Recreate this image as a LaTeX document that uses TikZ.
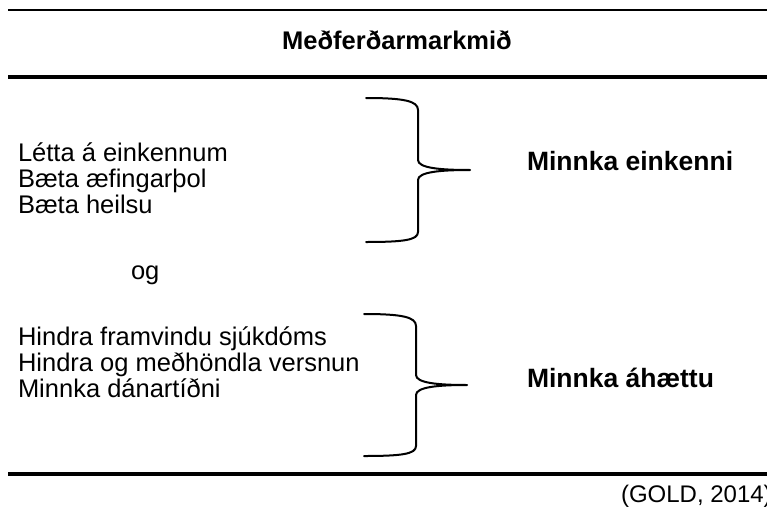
\documentclass[tikz,border=0pt]{standalone}
\usepackage{fontspec}
\setmainfont{Liberation Sans}
\begin{document}
\begin{tikzpicture}[x=1pt,y=-1pt,
  every node/.style={inner sep=0pt,outer sep=0pt},
  lefttext/.style={anchor=west,font=\fontsize{25.5}{28}\selectfont,text height=0.72em,text depth=0.2em},
  boldtext/.style={anchor=west,font=\fontsize{26.5}{30}\selectfont\bfseries,text height=0.72em,text depth=0.2em},
  rulethin/.style={line width=2.2pt},
  rulethick/.style={line width=3.6pt},
  bracestyle/.style={line width=2pt,line cap=round,line join=round}
]
\useasboundingbox (0,0) rectangle (767,511);
% rules
\draw[rulethin] (8,10) -- (767,10);
\draw[rulethick] (8,77) -- (767,77);
\draw[rulethick] (8,474) -- (767,474);
% title
\node[font=\fontsize{25.5}{28}\selectfont\bfseries,text height=0.72em,text depth=0.2em] (title) at (397,47) {Meðferðarmarkmið};
% upper group
\node[lefttext] (a1) at (18,159) {Létta á einkennum};
\node[lefttext] (a2) at (18,185) {Bæta æfingarþol};
\node[lefttext] (a3) at (18,211) {Bæta heilsu};
\node[boldtext] (ra) at (527,168) {Minnka einkenni};
\draw[bracestyle] (366,98) .. controls (404,98) and (418,101) .. (418,110)
  -- (418,160) .. controls (418,168) and (440,170) .. (470,170)
  .. controls (440,170) and (418,172) .. (418,180)
  -- (418,232) .. controls (418,240) and (404,242) .. (366,242);
% og
\node[lefttext] (og) at (131,277) {og};
% lower group
\node[lefttext] (b1) at (18,343) {Hindra framvindu sjúkdóms};
\node[lefttext] (b2) at (18,369) {Hindra og meðhöndla versnun};
\node[lefttext] (b3) at (18,395) {Minnka dánartíðni};
\node[boldtext] (rb) at (527,385) {Minnka áhættu};
\draw[bracestyle] (364,314) .. controls (402,314) and (416,317) .. (416,326)
  -- (416,375) .. controls (416,383) and (438,385) .. (467,385)
  .. controls (438,385) and (416,387) .. (416,395)
  -- (416,446) .. controls (416,454) and (402,456) .. (364,456);
% source
\node[anchor=west,font=\fontsize{24}{27}\selectfont,text height=0.72em,text depth=0.2em] (src) at (621,500) {(GOLD, 2014)};
\end{tikzpicture}
\end{document}
